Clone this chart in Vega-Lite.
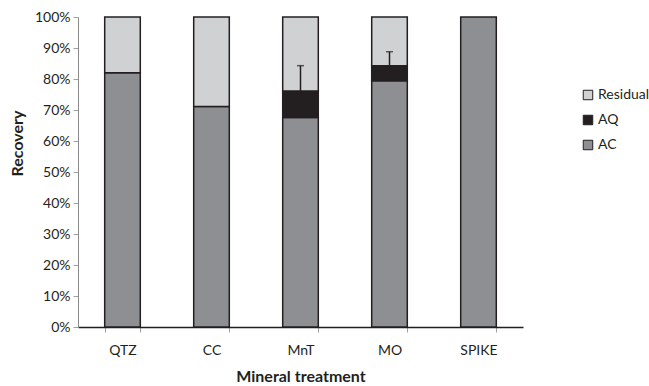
{
  "$schema": "https://vega.github.io/schema/vega-lite/v6.json",
  "autosize": {"type": "none"},
  "padding": {"left": 78, "top": 17, "right": 126, "bottom": 59},
  "width": 445,
  "height": 310,
  "background": "white",
  "config": {
    "view": {"stroke": null},
    "font": "Lato",
    "axis": {"labelFont": "Lato", "titleFont": "Lato", "labelColor": "#231f20", "titleColor": "#231f20", "grid": false},
    "axisY": {
      "title": "Recovery", "format": ".0%", "values": [0,0.1,0.2,0.3,0.4,0.5,0.6,0.7,0.8,0.9,1],
      "labelOverlap": false, "labelFontSize": 14, "titleFontSize": 16, "titleFontWeight": "bold",
      "domainColor": "#8a8a8a", "tickColor": "#a0a0a0", "tickSize": 5, "labelPadding": 3, "titlePadding": 9,
      "titleY": 126
    }
  },
  "datasets": {
    "bars": [
      {"treatment": "QTZ", "component": "AC", "value": 0.82, "ord": 1},
      {"treatment": "QTZ", "component": "AQ", "value": 0.0, "ord": 2},
      {"treatment": "QTZ", "component": "Residual", "value": 0.18, "ord": 3},
      {"treatment": "CC", "component": "AC", "value": 0.711, "ord": 1},
      {"treatment": "CC", "component": "AQ", "value": 0.0, "ord": 2},
      {"treatment": "CC", "component": "Residual", "value": 0.289, "ord": 3},
      {"treatment": "MnT", "component": "AC", "value": 0.676, "ord": 1},
      {"treatment": "MnT", "component": "AQ", "value": 0.085, "ord": 2},
      {"treatment": "MnT", "component": "Residual", "value": 0.239, "ord": 3},
      {"treatment": "MO", "component": "AC", "value": 0.794, "ord": 1},
      {"treatment": "MO", "component": "AQ", "value": 0.049, "ord": 2},
      {"treatment": "MO", "component": "Residual", "value": 0.157, "ord": 3},
      {"treatment": "SPIKE", "component": "AC", "value": 1.0, "ord": 1}
    ],
    "errs": [
      {"treatment": "MnT", "low": 0.761, "high": 0.843},
      {"treatment": "MO", "low": 0.843, "high": 0.888}
    ]
  },
  "layer": [
    {
      "data": {"name": "bars"},
      "transform": [{"filter": "datum.value > 0"}],
      "mark": {"type": "bar", "stroke": "#231f20", "strokeWidth": 1.5},
      "encoding": {
        "x": {
          "field": "treatment", "type": "nominal",
          "sort": ["QTZ", "CC", "MnT", "MO", "SPIKE"],
          "scale": {"paddingInner": 0.6, "paddingOuter": 0.3},
          "axis": {
            "title": "Mineral treatment", "labelAngle": 0, "labelFontSize": 14,
            "titleFontSize": 16, "titleFontWeight": "bold", "tickBand": "extent",
            "domainColor": "#231f20", "domainWidth": 1.5, "tickColor": "#a0a0a0", "tickSize": 5,
            "labelPadding": 11, "titlePadding": 11
          }
        },
        "y": {
          "field": "value", "type": "quantitative", "stack": "zero",
          "scale": {"domain": [0, 1], "nice": false},
          "title": "Recovery"
        },
        "color": {
          "field": "component", "type": "nominal",
          "scale": {"domain": ["Residual", "AQ", "AC"], "range": ["#d0d1d3", "#231f20", "#8e8f93"]},
          "legend": {
            "title": null, "orient": "none", "legendX": 503, "legendY": 71,
            "symbolType": "square", "symbolSize": 90, "symbolStrokeColor": "#231f20", "symbolStrokeWidth": 1,
            "labelFontSize": 14, "labelColor": "#231f20", "rowPadding": 11, "labelOffset": 3
          }
        },
        "order": {"field": "ord", "type": "quantitative"}
      }
    },
    {
      "data": {"name": "errs"},
      "mark": {"type": "rule", "color": "#231f20", "strokeWidth": 1.5},
      "encoding": {
        "x": {"field": "treatment", "type": "nominal", "sort": ["QTZ", "CC", "MnT", "MO", "SPIKE"]},
        "y": {"field": "low", "type": "quantitative", "title": "Recovery"},
        "y2": {"field": "high"}
      }
    },
    {
      "data": {"name": "errs"},
      "mark": {"type": "tick", "color": "#231f20", "thickness": 1.5, "size": 7, "orient": "horizontal"},
      "encoding": {
        "x": {"field": "treatment", "type": "nominal", "sort": ["QTZ", "CC", "MnT", "MO", "SPIKE"]},
        "y": {"field": "high", "type": "quantitative", "title": "Recovery"}
      }
    }
  ]
}
